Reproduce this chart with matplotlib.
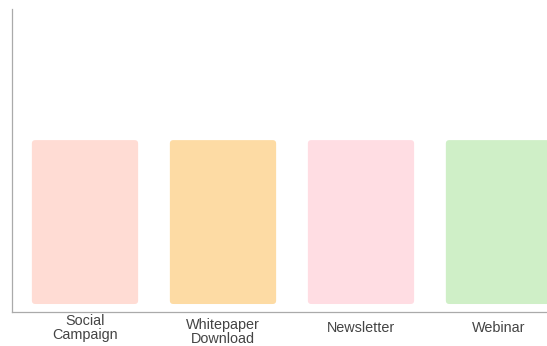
import matplotlib
matplotlib.use("Agg")
import matplotlib.pyplot as plt
from matplotlib.patches import FancyBboxPatch
from matplotlib.transforms import ScaledTranslation

categories = ["Social\nCampaign", "Whitepaper\nDownload", "Newsletter", "Webinar"]
values = [40, 40, 40, 40]
colors = ["#FFDCD4", "#FDDBA4", "#FFDDE3", "#CFEFC7"]

plt.rcParams['font.family'] = ['Liberation Sans', 'DejaVu Sans']

fig = plt.figure(figsize=(5.47, 3.46), dpi=100)
ax = fig.add_axes([12/547, 34/346, 1 - 12/547, 303/346])

x = list(range(len(categories)))
bars = ax.bar(x, values, width=0.77, color=colors)
vmax = max(values)
ax.set_xlim(-0.529, 3.348)
ax.set_ylim(-0.0488 * vmax, 1.80 * vmax)

# rounded corners
aspect = (1.80 + 0.0488) * vmax / 303 / ((3.348 + 0.529) / 535)
for b in bars:
    bx, by = b.get_x(), b.get_y()
    w, h = b.get_width(), b.get_height()
    fc = b.get_facecolor()
    b.remove()
    p = FancyBboxPatch((bx, by), w, h,
                       boxstyle="round,pad=0,rounding_size=0.025",
                       mutation_aspect=aspect, facecolor=fc, edgecolor='none')
    ax.add_patch(p)

ax.set_xticks(x)
ax.set_xticklabels(categories, fontsize=10.4, color='#444444', va='center',
                   linespacing=1.0)
ax.tick_params(axis='x', length=0, pad=11.5)
ax.set_yticks([])
for s in ['top', 'right']:
    ax.spines[s].set_visible(False)
for s in ['left', 'bottom']:
    ax.spines[s].set_color('#AAAAAA')
    ax.spines[s].set_linewidth(0.9)

lbl = ax.get_xticklabels()[1]
lbl.set_transform(lbl.get_transform() + ScaledTranslation(0, -0.04, fig.dpi_scale_trans))

fig.savefig("out.png", dpi=100)
